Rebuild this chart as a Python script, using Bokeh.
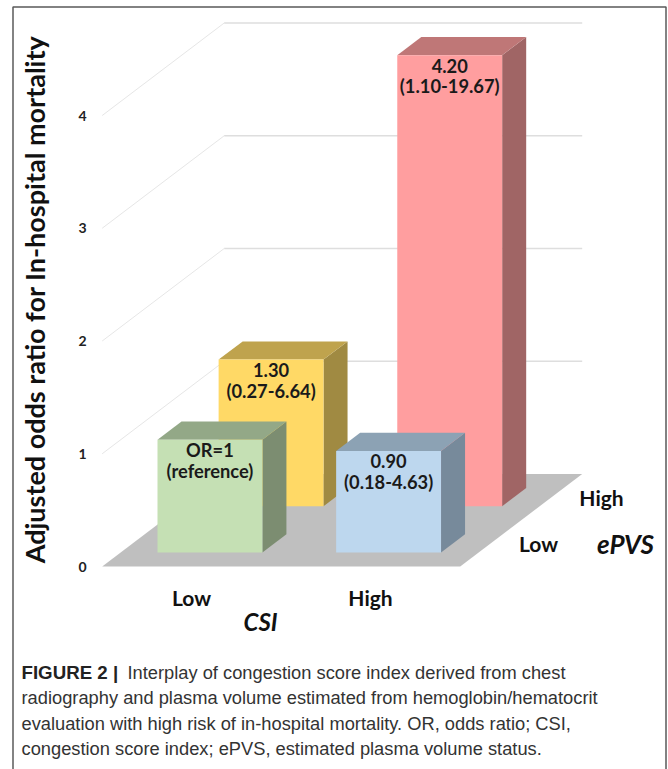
from bokeh.plotting import figure
from bokeh.embed import file_html
from bokeh.resources import INLINE
from bokeh.core.properties import value

# --- chart data ---
csi_levels = ["Low", "High"]
epvs_levels = ["Low", "High"]
tick_values = [0, 1, 2, 3, 4]
bar_csi = [0, 1, 0, 1]            # index into csi_levels
bar_epvs = [1, 1, 0, 0]           # index into epvs_levels (back-to-front order)
bar_heights = [1.30, 4.00, 1.00, 0.90]
bar_line1 = ["1.30", "4.20", "OR=1", "0.90"]
bar_line2 = ["(0.27-6.64)", "(1.10-19.67)", "(reference)", "(0.18-4.63)"]
face_colors = ["#FFD966", "#FF9E9F", "#C5E0B4", "#BDD7EE"]
top_colors = ["#BFA34D", "#BF7777", "#93A887", "#8CA2B4"]
side_colors = ["#A08A42", "#A06565", "#7C8D71", "#778A9B"]
y_title = "Adjusted odds ratio for In-hospital mortality"
caption_bold = "FIGURE 2 |"
caption_lines = [
    "Interplay of congestion score index derived from chest",
    "radiography and plasma volume estimated from hemoglobin/hematocrit",
    "evaluation with high risk of in-hospital mortality. OR, odds ratio; CSI,",
    "congestion score index; ePVS, estimated plasma volume status.",
]

# --- oblique projection: floor (u across, v into depth), value upward ---
W, H = 668, 769
X0, Y0 = 101.7, 566.0       # pixel of the front-left floor corner
UX, VX, VY, ZY = 358.0, 122.0, 92.5, 112.75
x_lo, x_hi = (0 - X0) / UX, (W - X0) / UX
y_lo, y_hi = (Y0 - H) / ZY, Y0 / ZY


def proj(u, v, z):
    return u + v * VX / UX, z + v * VY / ZY


def px(x):
    return (x - X0) / UX


def py(y):
    return (Y0 - y) / ZY


def poly(pts):
    c = [proj(*q) for q in pts]
    return [a for a, _ in c], [b for _, b in c]


p = figure(width=W, height=H, x_range=(x_lo, x_hi), y_range=(y_lo, y_hi),
           output_backend="svg", toolbar_location=None, min_border=0,
           outline_line_color=None, x_axis_type=None, y_axis_type=None)
p.grid.visible = False
p.background_fill_color = "white"
p.border_fill_color = "white"

# outer frame
p.line([px(12.5), px(12.5), px(665.5), px(665.5)], [py(769), py(6.5), py(6.5), py(769)],
       line_color="#5A5A5A", line_width=1.5)

# gridlines: back wall + side wall
for t in tick_values[1:]:
    xs, ys = poly([(0, 0, t), (0, 1, t)])
    p.line(xs, ys, line_color="#E6E6E6", line_width=1)
    xs, ys = poly([(0, 1, t), (1, 1, t)])
    p.line(xs, ys, line_color="#DEDEDE", line_width=1.6)

# floor
xs, ys = poly([(0, 0, 0), (1, 0, 0), (1, 1, 0), (0, 1, 0)])
p.patch(xs, ys, fill_color="#BFBFBF", line_color=None)

# bars
BAR_W, BAR_D = 0.293, 0.197
U_OFF = [0.103, 0.602]
V_OFF = [0.151, 0.652]
for i, h in enumerate(bar_heights):
    u = U_OFF[bar_csi[i]]
    v = V_OFF[bar_epvs[i]]
    u2, v2 = u + BAR_W, v + BAR_D
    xs, ys = poly([(u2, v, 0), (u2, v2, 0), (u2, v2, h), (u2, v, h)])
    p.patch(xs, ys, fill_color=side_colors[i], line_color=None)
    xs, ys = poly([(u, v, h), (u2, v, h), (u2, v2, h), (u, v2, h)])
    p.patch(xs, ys, fill_color=top_colors[i], line_color=None)
    xs, ys = poly([(u, v, 0), (u2, v, 0), (u2, v, h), (u, v, h)])
    p.patch(xs, ys, fill_color=face_colors[i], line_color=None)
    cx, ctop = proj(u + BAR_W / 2, v, h)
    p.text([cx], [ctop - 0.092], text=[bar_line1[i]], text_font=value("Lato"),
           text_font_style="bold", text_font_size="18.3px", text_color="#1A1A1A",
           text_align="center", text_baseline="middle")
    p.text([cx], [ctop - 0.275], text=[bar_line2[i]], text_font=value("Lato"),
           text_font_style="bold", text_font_size="18.3px", text_color="#1A1A1A",
           text_align="center", text_baseline="middle")

# value ticks
p.text([px(82)] * len(tick_values), tick_values, text=[str(t) for t in tick_values],
       text_font=value("Lato"), text_font_style="bold", text_font_size="14px",
       text_color="#222222", text_align="center", text_baseline="middle")

# category labels
p.text([px(191), px(370)], [py(597)] * 2, text=csi_levels, text_font=value("Lato"),
       text_font_style="bold", text_font_size="21px", text_color="#111111",
       text_align="center", text_baseline="middle")
p.text([px(538), px(601)], [py(543), py(497)], text=epvs_levels, text_font=value("Lato"),
       text_font_style="bold", text_font_size="21px", text_color="#111111",
       text_align="center", text_baseline="middle")
p.text([px(260)], [py(621)], text=["CSI"], text_font=value("Lato"),
       text_font_style="bold italic", text_font_size="24px", text_color="#111111",
       text_align="center", text_baseline="middle")
p.text([px(625)], [py(543)], text=["ePVS"], text_font=value("Lato"),
       text_font_style="bold italic", text_font_size="26px", text_color="#111111",
       text_align="center", text_baseline="middle")

# axis title
p.text([px(34)], [py(299)], text=[y_title], angle=1.5708, text_font=value("Lato"),
       text_font_style="bold", text_font_size="27px", text_color="#111111",
       text_align="center", text_baseline="middle")

# caption
LINE_Y = [672, 697, 723, 748]
CAP_X = [127, 21, 21, 21]
p.text([px(21)], [py(LINE_Y[0])], text=[caption_bold], text_font=value("Liberation Sans"),
       text_font_style="bold", text_font_size="18.7px", text_color="#222222",
       text_align="left", text_baseline="middle")
p.text([px(a) for a in CAP_X], [py(b) for b in LINE_Y], text=caption_lines,
       text_font=value("Liberation Sans"), text_font_size="18.3px", text_color="#333333",
       text_align="left", text_baseline="middle")

open("out.html", "w").write(file_html(p, INLINE))
